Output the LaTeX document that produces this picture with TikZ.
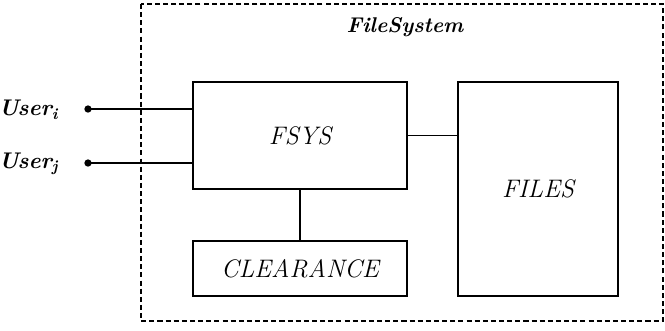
\documentclass[tikz,border=0pt]{standalone}
\begin{document}
\begin{tikzpicture}[x=0.75pt,y=-0.75pt,
  box/.style={draw,line width=1pt,inner sep=0pt,font=\fontsize{19}{22}\selectfont\itshape},
  wire/.style={line width=1pt},
  lbl/.style={font=\fontsize{16}{19}\selectfont\bfseries\itshape},
  usr/.style={font=\fontsize{17}{20}\selectfont\bfseries\itshape},
  enddot/.style={circle,fill,inner sep=0pt,minimum size=5.5pt}]
\useasboundingbox (0,0) rectangle (665,330);
% enclosing system boundary
\draw[line width=1pt,dash pattern=on 3.8pt off 2.3pt] (141,4) rectangle (663,321);
\node[lbl] (fs) at (405,27) {FileSystem};
% components
\node[box,minimum width=160.5pt,minimum height=80.25pt] (fsys) at (300,135.5) {FSYS};
\node[box,minimum width=120pt,minimum height=160.5pt] (files) at (538,189) {FILES};
\node[box,minimum width=160.5pt,minimum height=41.25pt] (clr) at (300,268.5) {CLEARANCE};
% user access points
\node[enddot] (ui) at (88,109) {};
\node[enddot] (uj) at (88,163) {};
\node[usr,anchor=east] (uil) at (63,110) {User\textsubscript{i}};
\node[usr,anchor=east] (ujl) at (63,164) {User\textsubscript{j}};
% connections
\draw[wire] (ui.center) -- (ui.center -| fsys.west);
\draw[wire] (uj.center) -- (uj.center -| fsys.west);
\draw[wire] (fsys.east) -- (fsys.east -| files.west);
\draw[wire] (fsys.south) -- (clr.north);
\end{tikzpicture}
\end{document}
